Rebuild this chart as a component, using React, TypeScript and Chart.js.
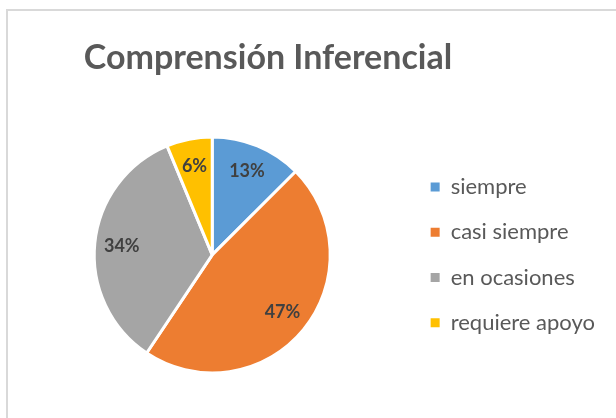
import React, { useEffect, useRef } from "react";
import { Chart, registerables } from "chart.js";

Chart.register(...registerables);

const categories = ["siempre", "casi siempre", "en ocasiones", "requiere apoyo"];
const counts = [4, 15, 11, 2];
const colors = ["#5B9BD5", "#ED7D31", "#A5A5A5", "#FFC000"];
const chartTitle = "Comprensión Inferencial";

const TITLE_SHIFT = -43;
const LABEL_RADIUS = 0.77;

const titleShiftPlugin = {
  id: "titleShift",
  afterLayout(chart: any) {
    const t = chart.titleBlock;
    if (t) {
      t.left += TITLE_SHIFT;
      t.right += TITLE_SHIFT;
    }
  },
};

const pctLabelPlugin = {
  id: "pctLabels",
  afterDatasetsDraw(chart: any) {
    const ctx = chart.ctx;
    const meta = chart.getDatasetMeta(0);
    const data = chart.data.datasets[0].data as number[];
    const total = data.reduce((a, b) => a + b, 0);
    ctx.save();
    ctx.font = "bold 18px Lato";
    ctx.fillStyle = "#404040";
    ctx.textAlign = "center";
    ctx.textBaseline = "middle";
    meta.data.forEach((arc: any, i: number) => {
      const { x, y, startAngle, endAngle, outerRadius } = arc.getProps(
        ["x", "y", "startAngle", "endAngle", "outerRadius"],
        true
      );
      const mid = (startAngle + endAngle) / 2;
      const r = outerRadius * LABEL_RADIUS;
      const text = Math.round((data[i] / total) * 100) + "%";
      ctx.fillText(text, x + Math.cos(mid) * r, y + Math.sin(mid) * r);
    });
    ctx.restore();
  },
};

export default function App() {
  const ref = useRef<HTMLCanvasElement | null>(null);

  useEffect(() => {
    if (!ref.current) return;
    const chart = new Chart(ref.current, {
      type: "pie",
      data: {
        labels: categories,
        datasets: [
          {
            data: counts,
            backgroundColor: colors,
            borderColor: "#ffffff",
            borderWidth: 3,
            radius: 118,
          } as any,
        ],
      },
      options: {
        animation: false,
        responsive: false,
        maintainAspectRatio: false,
        layout: { padding: { left: 9, right: 3, top: 0, bottom: 0 } },
        plugins: {
          tooltip: { enabled: false },
          title: {
            display: true,
            text: chartTitle,
            color: "#595959",
            font: { family: "Lato", size: 34, weight: "bold", lineHeight: 1.2 },
            padding: { top: 27, bottom: 13 },
          },
          legend: {
            position: "right",
            align: "center",
            fullSize: false,
            labels: {
              color: "#595959",
              font: { family: "Lato", size: 22 },
              boxWidth: 9,
              boxHeight: 9,
              padding: 23.2,
              generateLabels: (c: any) =>
                (Chart as any).overrides.pie.plugins.legend.labels
                  .generateLabels(c)
                  .map((l: any) => ({ ...l, lineWidth: 0 })),
            },
          },
        },
      },
      plugins: [titleShiftPlugin, pctLabelPlugin],
    });
    return () => chart.destroy();
  }, []);

  return (
    <div
      style={{
        position: "fixed",
        left: 0,
        top: 0,
        width: 616,
        height: 418,
        overflow: "hidden",
        background: "#ffffff",
      }}
    >
      <div
        style={{
          position: "absolute",
          left: 6,
          top: 9,
          width: 640,
          height: 440,
          border: "2px solid #d9d9d9",
          boxSizing: "border-box",
        }}
      >
        <canvas ref={ref} width={600} height={407} style={{ display: "block" }} />
      </div>
    </div>
  );
}
